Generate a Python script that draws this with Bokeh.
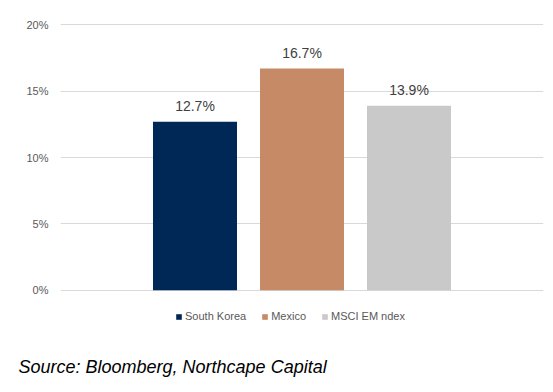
from bokeh.plotting import figure
from bokeh.models import (ColumnDataSource, FactorRange, Range1d, FixedTicker,
                          PrintfTickFormatter, Legend, LegendItem, Title)
from bokeh.core.properties import value
from bokeh.embed import file_html
from bokeh.resources import INLINE

categories = ["South Korea", "Mexico", "MSCI EM ndex"]
values = [12.7, 16.7, 13.9]
colors = ["#002857", "#C68A67", "#C9C9C9"]
y_ticks = [0, 5, 10, 15, 20]
source_note = "Source: Bloomberg, Northcape Capital"

src = ColumnDataSource(dict(cat=categories, val=values, color=colors,
                            label=[f"{v:.1f}%" for v in values]))

p = figure(x_range=FactorRange(*categories, range_padding=0.757, range_padding_units="absolute"),
           y_range=Range1d(-3.414, 20.4),
           frame_width=483, frame_height=316,
           min_border_left=60, min_border_right=10, min_border_top=19, min_border_bottom=57,
           output_backend="svg", toolbar_location=None)

r = p.vbar(x="cat", top="val", width=0.785, fill_color="color", line_color=None, source=src)
p.text(x="cat", y="val", text="label", source=src, y_offset=-16,
       text_align="center", text_baseline="alphabetic",
       text_font_size="14px", text_color="#404040", text_font=value("Liberation Sans"))

p.xaxis.visible = False
p.xgrid.visible = False
p.ygrid.grid_line_color = "#D9D9D9"
p.ygrid.ticker = FixedTicker(ticks=y_ticks)
p.outline_line_color = None
ax = p.yaxis[0]
ax.ticker = FixedTicker(ticks=y_ticks)
ax.formatter = PrintfTickFormatter(format="%d%%")
ax.axis_line_color = None
ax.major_tick_line_color = None
ax.minor_tick_line_color = None
ax.major_tick_out = 0
ax.major_label_standoff = 12
ax.major_label_text_font = "Liberation Sans"
ax.major_label_text_font_size = "11px"
ax.major_label_text_color = "#595959"

legend = Legend(items=[LegendItem(label=c, renderers=[r], index=i) for i, c in enumerate(categories)],
                orientation="horizontal", location=(115, 13),
                glyph_width=7, glyph_height=7, label_standoff=3, spacing=15,
                label_height=12, padding=0, margin=0, border_line_color=None,
                background_fill_alpha=0,
                label_text_font="Liberation Sans", label_text_font_size="11px",
                label_text_color="#595959")
p.add_layout(legend, "center")

note = Title(text=source_note, align="left", text_font="Liberation Sans",
             text_font_size="18px", text_font_style="italic", text_color="#000000",
             offset=-42, standoff=38)
p.add_layout(note, "below")

open("out.html", "w").write(file_html(p, INLINE))
